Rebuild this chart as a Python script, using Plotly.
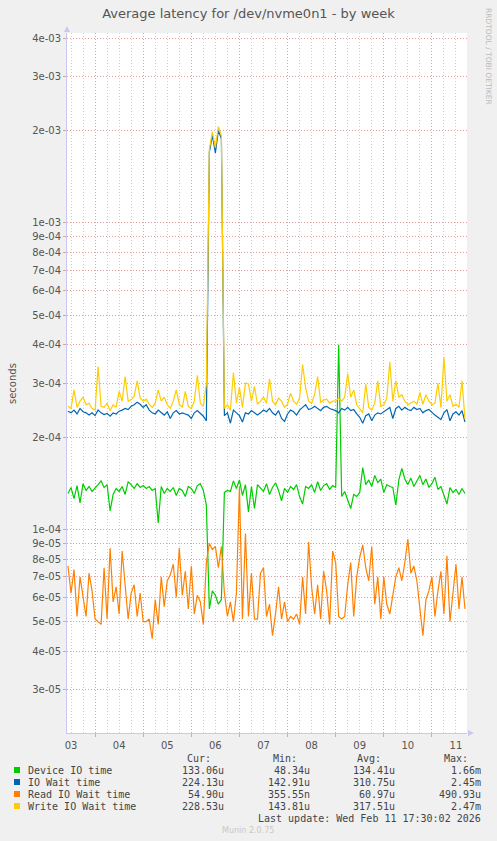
import pandas as pd
import plotly.graph_objects as go

# munin "by week" graph of /dev/nvme0n1 latency, values in microseconds
sample_start = "2026-02-03 10:30"
sample_step = "90min"

device_io_us = [
    131, 137, 126, 139, 122, 141, 134, 138, 133, 137,
    140, 144, 137, 140, 115, 130, 136, 133, 138, 130,
    143, 140, 136, 141, 137, 139, 136, 138, 134, 136,
    105, 138, 131, 136, 133, 137, 129, 136, 134, 128,
    138, 136, 131, 139, 141, 134, 120, 55, 63, 61,
    57, 59, 132, 134, 133, 144, 136, 145, 129, 140,
    114, 138, 117, 140, 137, 133, 141, 130, 137, 142,
    134, 124, 136, 132, 138, 135, 140, 128, 121, 138,
    136, 140, 132, 143, 134, 139, 141, 135, 139, 137,
    400, 128, 133, 125, 117, 130, 128, 132, 159, 140,
    145, 138, 150, 142, 146, 132, 140, 138, 137, 120,
    145, 158, 146, 140, 147, 138, 144, 150, 140, 146,
    137, 141, 148, 135, 138, 130, 121, 137, 132, 135,
    130, 136, 131,
]
io_wait_us = [
    243, 240, 245, 238, 248, 242, 240, 236, 240, 235,
    245, 240, 237, 239, 234, 240, 238, 243, 245, 248,
    246, 252, 255, 260, 256, 250, 255, 245, 240, 238,
    245, 240, 236, 242, 230, 240, 244, 238, 240, 238,
    236, 230, 240, 244, 238, 234, 226, 1700, 1930, 1690,
    2000, 1880, 235, 240, 222, 245, 240, 235, 224, 240,
    238, 244, 240, 236, 240, 245, 242, 248, 240, 236,
    244, 230, 225, 238, 245, 242, 236, 245, 250, 255,
    246, 248, 252, 248, 244, 250, 252, 248, 246, 244,
    240, 248, 245, 250, 244, 246, 238, 232, 222, 235,
    238, 226, 236, 240, 238, 242, 246, 250, 230, 248,
    252, 245, 250, 246, 244, 250, 246, 248, 240, 244,
    246, 240, 236, 232, 228, 240, 246, 226, 238, 242,
    236, 244, 224,
]
read_wait_us = [
    76, 62, 74, 52, 70, 60, 52, 72, 63, 51,
    50, 49, 75, 51, 87, 58, 65, 53, 85, 67,
    51, 62, 66, 52, 62, 50, 50, 51, 44, 59,
    49, 70, 56, 68, 71, 77, 60, 87, 61, 73,
    55, 76, 53, 61, 58, 49, 78, 90, 86, 88,
    75, 88, 62, 52, 58, 50, 62, 138, 51, 97,
    52, 72, 51, 51, 72, 75, 52, 57, 45, 53,
    65, 51, 58, 50, 52, 51, 53, 49, 70, 53,
    91, 65, 53, 66, 51, 73, 63, 49, 85, 78,
    52, 51, 52, 66, 78, 52, 70, 81, 89, 75,
    68, 88, 57, 70, 51, 70, 57, 53, 60, 70,
    75, 68, 78, 93, 72, 76, 68, 55, 45, 59,
    63, 70, 52, 63, 73, 53, 82, 50, 63, 77,
    55, 70, 55,
]
write_wait_us = [
    252, 248, 285, 250, 262, 270, 255, 258, 248, 245,
    340, 252, 250, 258, 244, 255, 250, 282, 262, 315,
    262, 265, 272, 305, 268, 262, 266, 256, 250, 258,
    285, 262, 270, 255, 248, 262, 285, 256, 250, 282,
    252, 248, 262, 318, 258, 252, 298, 1740, 1980, 1760,
    2060, 1920, 248, 255, 245, 325, 258, 290, 250, 300,
    298, 262, 292, 256, 262, 270, 258, 310, 262, 255,
    268, 262, 250, 256, 278, 262, 256, 268, 345, 290,
    262, 258, 275, 315, 260, 264, 266, 258, 262, 262,
    268, 262, 270, 322, 270, 285, 255, 248, 240, 298,
    250, 245, 258, 305, 252, 255, 268, 352, 262, 305,
    270, 275, 262, 255, 258, 262, 256, 280, 256, 275,
    262, 255, 258, 300, 250, 365, 262, 275, 252, 256,
    250, 305, 229,
]

series_names = ["Device IO time", "IO Wait time", "Read IO Wait time", "Write IO Wait time"]
series_colors = ["#00CC00", "#0066B3", "#FF8000", "#FFCC00"]
cur_vals = ["133.06u", "224.13u", "54.90u", "228.53u"]
min_vals = ["48.34u", "142.91u", "355.55n", "143.81u"]
avg_vals = ["134.41u", "310.75u", "60.97u", "317.51u"]
max_vals = ["1.66m", "2.45m", "490.93u", "2.47m"]

y_tickvals = [3e-5, 4e-5, 5e-5, 6e-5, 7e-5, 8e-5, 9e-5,
              1e-4, 2e-4, 3e-4, 4e-4, 5e-4, 6e-4, 7e-4, 8e-4, 9e-4,
              1e-3, 2e-3, 3e-3, 4e-3]
y_ticktext = ["3e-05", "4e-05", "5e-05", "6e-05", "7e-05", "8e-05", "9e-05",
              "1e-04", "2e-04", "3e-04", "4e-04", "5e-04", "6e-04", "7e-04", "8e-04", "9e-04",
              "1e-03", "2e-03", "3e-03", "4e-03"]

W, H = 497, 841
L, R, T, B = 67, 30, 33, 108
pw, ph = W - L - R, H - T - B


def px(x):
    return (x - L) / pw


def py(y):
    return (H - B - y) / ph


times = pd.date_range(sample_start, periods=len(device_io_us), freq=sample_step)
data = [device_io_us, io_wait_us, read_wait_us, write_wait_us]

fig = go.Figure()
for name, col, vals in zip(series_names, series_colors, data):
    fig.add_trace(go.Scatter(x=times, y=[v * 1e-6 for v in vals], mode="lines", name=name,
                             line=dict(color=col, width=1.2)))

grid_red = "rgb(228,160,160)"
grid_grey = "rgb(205,205,205)"
axis_col = "#C8C8F0"
text_col = "#555555"

fig.update_layout(
    width=W, height=H,
    margin=dict(l=L, r=R, t=T, b=B),
    paper_bgcolor="#F0F0F0", plot_bgcolor="white",
    showlegend=False,
    font=dict(family="DejaVu Sans", size=10, color=text_col),
    title=dict(text="Average latency for /dev/nvme0n1 - by week", x=0.5, xanchor="center",
               y=1 - 13 / H, yanchor="middle", font=dict(size=13, color=text_col)),
)
fig.update_xaxes(
    type="date", range=["2026-02-03 10:00", "2026-02-11 17:30"],
    tick0="2026-02-03", dtick=86400000, ticklabelmode="period", tickformat="%d",
    showgrid=True, gridcolor=grid_red, griddash="1px,2px", gridwidth=1,
    ticks="outside", ticklen=3, tickcolor=grid_red,
    minor=dict(dtick=6 * 3600000, showgrid=True, gridcolor=grid_grey, griddash="1px,2px", gridwidth=1),
    showline=True, linecolor=axis_col, linewidth=1, zeroline=False,
    tickfont=dict(size=10, color=text_col),
)
fig.update_yaxes(
    type="log", range=[-4.664, -2.381],
    tickvals=y_tickvals, ticktext=y_ticktext,
    showgrid=True, gridcolor=grid_red, griddash="1px,2px", gridwidth=1,
    ticks="outside", ticklen=3, tickcolor=grid_red,
    showline=True, linecolor=axis_col, linewidth=1, zeroline=False,
    tickfont=dict(size=10, color=text_col),
)

# axis arrows
fig.add_shape(type="path", xref="paper", yref="paper", line=dict(width=0), fillcolor=axis_col,
              path=f"M {px(64)},{py(32)} L {px(70)},{py(32)} L {px(67)},{py(26)} Z")
fig.add_shape(type="path", xref="paper", yref="paper", line=dict(width=0), fillcolor=axis_col,
              path=f"M {px(468)},{py(730)} L {px(468)},{py(736)} L {px(474)},{py(733)} Z")


def note(x, y, text, font, xanchor="center", angle=0):
    return dict(x=px(x), y=py(y), text=text, xanchor=xanchor, yanchor="middle", textangle=angle,
                showarrow=False, xref="paper", yref="paper", font=font)


ann = []
ann.append(note(12, 383, "seconds", dict(size=10, color=text_col), angle=-90))
ann.append(note(488, 56, "RRDTOOL / TOBI OETIKER", dict(size=7.5, color="#BBBBBB"), angle=90))

mono = dict(family="DejaVu Sans Mono", size=10, color="#444444")
for head, xr in zip(["Cur:", "Min:", "Avg:", "Max:"], [213, 299, 383, 470]):
    ann.append(note(xr, 758, head, mono, xanchor="right"))
row_y = [770, 782, 794, 806]
for i, name in enumerate(series_names):
    yy = row_y[i]
    fig.add_shape(type="rect", xref="paper", yref="paper", line=dict(width=0),
                  fillcolor=series_colors[i],
                  x0=px(14), x1=px(20), y0=py(yy + 3), y1=py(yy - 3))
    ann.append(note(26, yy, name, mono, xanchor="left"))
    for vals, xr in zip([cur_vals, min_vals, avg_vals, max_vals], [226, 312, 397, 483]):
        ann.append(note(xr, yy, vals[i], mono, xanchor="right"))
ann.append(note(483, 818, "Last update: Wed Feb 11 17:30:02 2026", mono, xanchor="right"))
ann.append(note(248, 830, "Munin 2.0.75", dict(size=8, color="#C8C8C8")))
fig.update_layout(annotations=ann)

fig.write_html("out.html", config={"displayModeBar": False},
               post_script="document.body.style.margin='0';")
